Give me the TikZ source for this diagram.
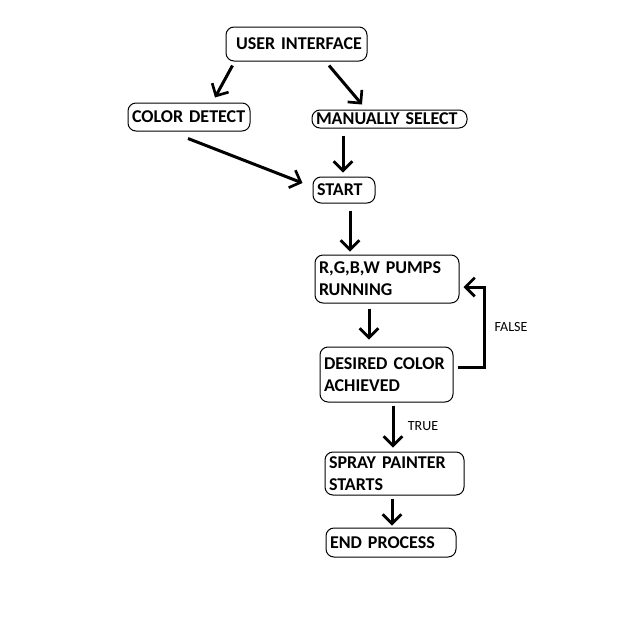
\documentclass[tikz,border=0pt]{standalone}
\usepackage{fontspec}
\setsansfont[WordSpace=0.8]{Carlito}
\usetikzlibrary{arrows.meta,positioning,calc}

\begin{document}
\begin{tikzpicture}[
    x=0.75pt, y=-0.75pt, % 1 unit = 1 pixel, y down
    font=\sffamily\bfseries\fontsize{13.5}{16.5}\selectfont,
    % process box
    procbox/.style={
        draw=black,
        line width=0.75pt,
        rounded corners=6pt,
        align=left,
        inner xsep=3pt,
        inner ysep=0pt
    },
    % small labels on connectors
    lbl/.style={
        font=\sffamily\fontsize{10.5}{12}\selectfont,
        text=black
    },
    % thick hand-drawn arrow
    arrow/.style={
        -{Straight Barb[length=7pt, width=14pt, line width=2pt]},
        line width=2.25pt,
        draw=black
    }
]
    \useasboundingbox (0,0) rectangle (636,618);

    % --- boxes ---
    \node[procbox, text width=99.75pt, minimum height=25.5pt] (ui) at (296.5,44) {\ USER INTERFACE};
    \node[procbox, text width=85.5pt, minimum height=21pt] (cd) at (189,117) {COLOR DETECT};
    \node[procbox, text width=110.25pt, minimum height=13.5pt] (ms) at (389.5,119) {MANUALLY SELECT};
    \node[procbox, text width=40.5pt, minimum height=19.5pt] (st) at (344,190) {START};
    \node[procbox, text width=102pt, minimum height=36pt] (pumps) at (387,279) {R,G,B,W PUMPS\\RUNNING};
    \node[procbox, text width=93.75pt, minimum height=41.25pt] (des) at (386.5,374.5) {DESIRED COLOR\\ACHIEVED};
    \node[procbox, text width=98.25pt, minimum height=32.25pt] (spray) at (394.5,473.5) {SPRAY PAINTER\\STARTS};
    \node[procbox, text width=91.5pt, minimum height=21.75pt] (endproc) at (391,542.5) {END PROCESS};

    % --- labels ---
    \node[lbl] (lfalse) at (511,327) {FALSE};
    \node[lbl] (ltrue) at (423,426) {TRUE};

    % --- connectors ---
    \draw[arrow] ($(ui.south west)+(7,4)$) -- ($(cd.north)+(26,-5)$);
    \draw[arrow] ($(ui.south)+(32.5,4)$) -- ($(ms.north)+(-27.5,-5)$);
    \draw[arrow] ($(cd.south)+(-1,7)$) -- ($(st.west)+(-10,-7)$);
    \draw[arrow] ($(ms.south -| st.north)+(-1,7)$) -- ($(st.north)+(-1,-4)$);
    \draw[arrow] ($(st.south)+(6,7)$) -- ($(pumps.north -| st.south)+(6,-3)$);
    \draw[arrow] ($(pumps.south)+(-18,5)$) -- ($(des.north)+(-17.5,-7)$);
    \draw[arrow] ($(des.east)+(4,-7.5)$) -- ++(27,0) |- ($(pumps.east)+(4,8)$);
    \draw[arrow] ($(des.south)+(6.5,3)$) -- ($(spray.north)+(-1.5,-4)$);
    \draw[arrow] ($(spray.south)+(-2.5,3)$) -- ($(endproc.north)+(1,-2)$);

\end{tikzpicture}
\end{document}
